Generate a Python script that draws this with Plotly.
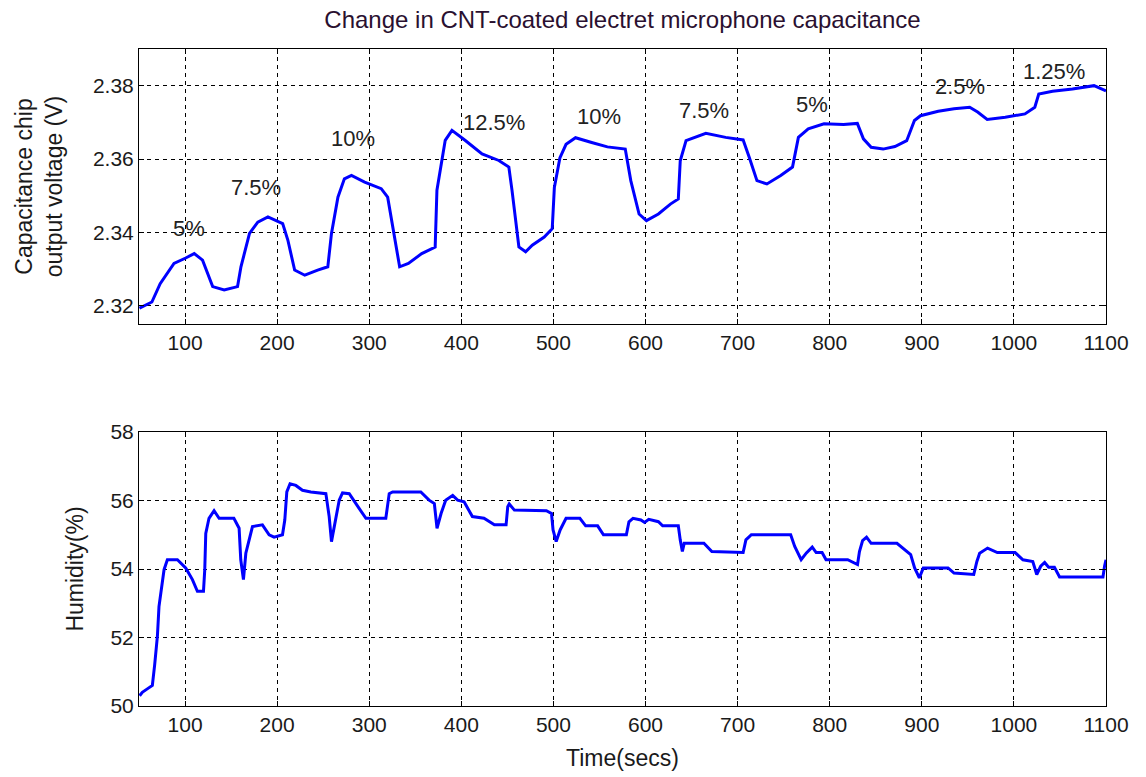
import plotly.graph_objects as go
from plotly.subplots import make_subplots

# ---- top panel: capacitance chip output voltage (V) ----
time_v = [50.5, 64, 73, 88, 100.7, 110, 119, 130, 142.5, 157, 160.7, 170, 179, 190, 206, 211.6,
          219, 230, 244, 255, 259, 266, 273, 280.7, 295, 313, 320, 327.6, 333, 342.5, 357, 371.6,
          373.5, 382.5, 389.8, 404, 422.5, 440.7, 451.6, 455, 462.5, 469.8,
          477, 490, 498.7, 501, 507, 513.7, 524, 541.5, 558.6, 578, 584, 593, 601, 614, 627,
          635.6, 637.7, 644, 665.5, 687, 706, 712.6, 721, 731.8, 746.8, 759.6, 766, 776.7,
          793.8, 815, 830, 836.6, 845, 858, 870.8, 883.6, 892, 898.6, 917.9, 935, 952, 960.6,
          971, 990.6, 1012, 1022.7, 1027, 1042, 1063.6, 1087, 1100]
voltage = [2.3193, 2.321, 2.326, 2.3315, 2.333, 2.3342, 2.3324, 2.3252, 2.3243, 2.3252, 2.3306,
           2.3397, 2.3428, 2.3442, 2.3424, 2.3379, 2.3297, 2.3283, 2.3297, 2.3306, 2.3397, 2.3496,
           2.3546, 2.3555, 2.3537, 2.3519, 2.3496, 2.3379, 2.3306, 2.3315, 2.3342, 2.336,
           2.3515, 2.3651, 2.3678, 2.3651, 2.3614, 2.3596, 2.3578, 2.3515, 2.336, 2.3347,
           2.3365, 2.3387, 2.341, 2.3522, 2.3603, 2.364, 2.3658, 2.3645, 2.3633, 2.3627, 2.3541,
           2.345, 2.3432, 2.345, 2.3477, 2.3491, 2.3595, 2.365, 2.367, 2.3659, 2.3652, 2.3605,
           2.3541, 2.3532, 2.3555, 2.3578, 2.3659, 2.3682, 2.3696, 2.3694, 2.3697, 2.3655,
           2.3632, 2.3627, 2.3634, 2.365, 2.3705, 2.3718, 2.373, 2.3737, 2.3741, 2.3728, 2.3708,
           2.3714, 2.3723, 2.3741, 2.3777, 2.3785, 2.3791, 2.38, 2.3786]

labels = ["5%", "7.5%", "10%", "12.5%", "10%", "7.5%", "5%", "2.5%", "1.25%"]
label_x = [104, 177, 282, 435, 549, 664, 781, 941, 1043]
label_y = [2.341, 2.3523, 2.3656, 2.370, 2.3716, 2.3732, 2.3748, 2.3797, 2.3840]

# ---- bottom panel: humidity (%) ----
time_h = [50.7, 53.6, 59, 64.5, 67, 70, 71.7, 75.4, 77.2, 80.8, 91.7, 100.7, 108, 113.4, 120,
          121.4, 122.5, 126, 131.5, 137, 153, 158.7, 160.5, 163.4, 166, 169.6, 173.2, 184, 191.3,
          196.7, 205.8, 208.3, 210.5, 214, 220.3, 227.5, 236.6, 252.9, 256.5, 259, 262, 267.4,
          271, 278.3, 289, 296.4, 318, 321.7, 325.4, 356, 365, 370.7, 373.6, 378, 383, 390.6,
          396, 403, 412, 424.6, 435.9, 448.6, 450.4, 452, 457.6, 475.7,
          492.3, 497.9, 499.6, 503, 507.3, 513.7, 528.7, 535, 548, 554.3, 579.2, 582, 586.4,
          595, 599, 603.5, 614, 618.6, 635.6, 637.7, 640, 642, 663.4, 672, 706, 709, 714.9,
          757.6, 762, 769, 774.7, 781, 785.3, 791.7, 796, 819.5, 830.2, 832.3, 835.7, 840, 845,
          873, 881.5, 887.9, 892.2, 897.3, 901.6, 928.5, 935, 956.4, 959.8, 962.8, 971.4, 982,
          1001.3, 1009.8, 1020.5, 1024.8, 1029.1, 1033.4, 1037.7, 1044, 1049.6, 1096.7, 1098.4,
          1100]
humidity = [50.3, 50.4, 50.5, 50.6, 51.2, 52.05, 52.9, 53.6, 53.98, 54.27, 54.27, 54.03, 53.69,
            53.35, 53.35, 53.98, 55.04, 55.48, 55.7, 55.48, 55.48, 55.19, 54.27, 53.69, 54.46,
            54.85, 55.24, 55.29, 55.0, 54.93, 55.0, 55.43, 56.25, 56.49, 56.44, 56.3, 56.25, 56.2,
            55.53, 54.8, 55.24, 56.01, 56.22, 56.2, 55.77, 55.48, 55.48, 56.2, 56.25, 56.25, 56.01,
            55.91, 55.19, 55.62, 56.01, 56.15, 56.01, 55.96, 55.53, 55.48, 55.29, 55.29, 55.82,
            55.9, 55.72, 55.72,
            55.7, 55.62, 55.14, 54.8, 55.14, 55.48, 55.48, 55.26, 55.26, 55.0, 55.0, 55.38, 55.48,
            55.43, 55.36, 55.45, 55.38, 55.26, 55.26, 54.85, 54.51, 54.75, 54.75, 54.51, 54.48,
            54.85, 55.0, 55.0, 54.66, 54.27, 54.47, 54.64, 54.48, 54.48, 54.27, 54.27, 54.13,
            54.51, 54.83, 54.93, 54.75, 54.75, 54.56, 54.42, 54.03, 53.74, 54.03, 54.03, 53.88,
            53.84, 54.22, 54.46, 54.61, 54.48, 54.48, 54.27, 54.22, 53.84, 54.08, 54.19, 54.05,
            54.05, 53.77, 53.77, 54.08, 54.27]

x_ticks = [100, 200, 300, 400, 500, 600, 700, 800, 900, 1000, 1100]
v_ticks = [2.32, 2.34, 2.36, 2.38]
h_ticks = [50, 52, 54, 56, 58]

W, H = 1146, 777
L, R, T, B = 139, 40, 49, 71
ph = H - T - B
top_dom = [(706 - 324) / ph, 1.0]
bot_dom = [0.0, (706 - 432) / ph]

fig = make_subplots(rows=2, cols=1)
fig.add_trace(go.Scatter(x=time_v, y=voltage, mode="lines",
                         line=dict(color="#0000FF", width=3), showlegend=False), row=1, col=1)
fig.add_trace(go.Scatter(x=time_h, y=humidity, mode="lines",
                         line=dict(color="#0000FF", width=3), showlegend=False), row=2, col=1)

font = "Arial, Liberation Sans, sans-serif"
txt = "#1a1a1a"
axis_common = dict(showline=True, linecolor="black", linewidth=1, mirror="ticks",
                   ticks="inside", ticklen=5, tickcolor="black", automargin=False,
                   showgrid=True, gridcolor="black", gridwidth=1, griddash="4px,4px",
                   zeroline=False, tickfont=dict(family=font, size=21, color=txt))

fig.update_xaxes(**axis_common, range=[50, 1100], tickvals=x_ticks)
fig.update_xaxes(domain=[0, 1], row=1, col=1)
fig.update_xaxes(row=2, col=1,
                 title=dict(text="Time(secs)", font=dict(family=font, size=23, color=txt),
                            standoff=14))
fig.update_yaxes(**axis_common)
fig.update_yaxes(row=1, col=1, domain=top_dom, range=[2.315, 2.39], tickvals=v_ticks,
                 ticktext=[f"{v:.2f}" for v in v_ticks],
                 title=dict(text="Capacitance chip<br>output voltage (V)",
                            font=dict(family=font, size=23, color=txt), standoff=23))
fig.update_yaxes(row=2, col=1, domain=bot_dom, range=[50, 58], tickvals=h_ticks,
                 title=dict(text="Humidity(%)", font=dict(family=font, size=23, color=txt),
                            standoff=20))

for t, xv, yv in zip(labels, label_x, label_y):
    fig.add_annotation(x=xv, y=yv, xref="x", yref="y", text=t, showarrow=False,
                       font=dict(family=font, size=22, color="#222222"))

fig.update_layout(
    width=W, height=H, margin=dict(l=L, r=R, t=T, b=B, autoexpand=False),
    paper_bgcolor="white", plot_bgcolor="white",
    title=dict(text="Change in CNT-coated electret microphone capacitance",
               x=(L + (W - R)) / 2 / W, xanchor="center", y=1 - 20 / H, yanchor="middle",
               font=dict(family=font, size=24, color="#2a1030")),
)

fig.write_html("out.html")
